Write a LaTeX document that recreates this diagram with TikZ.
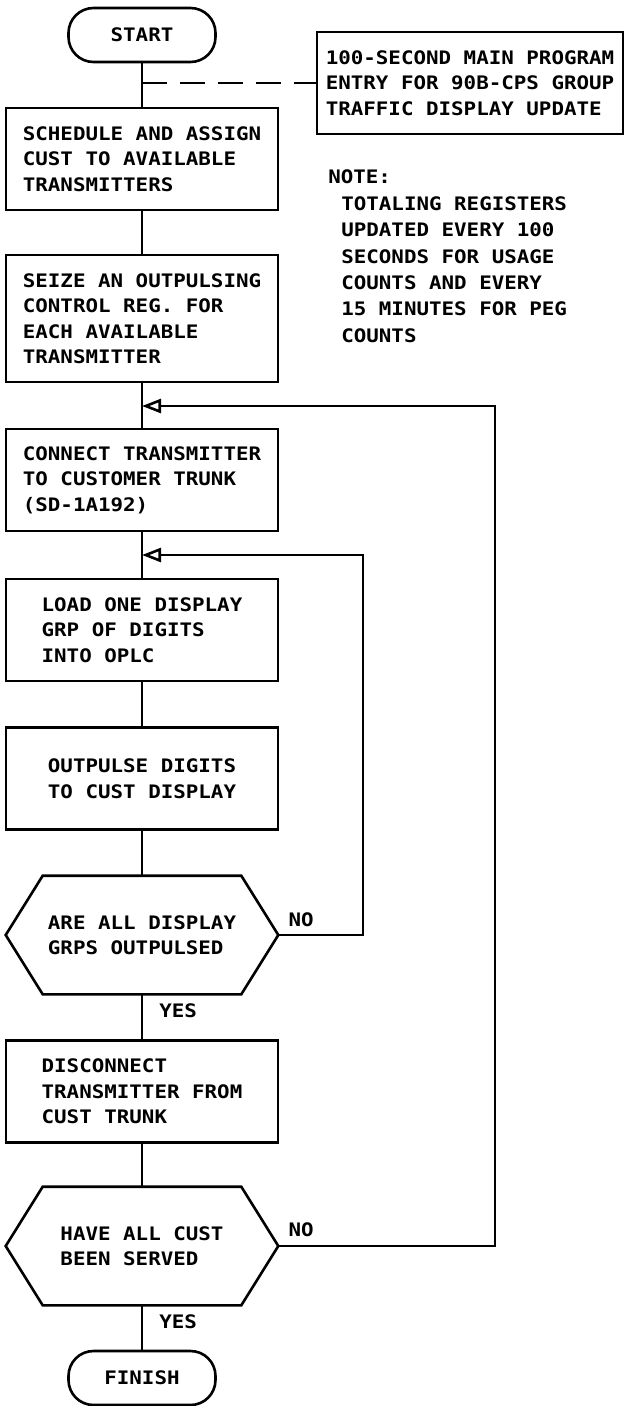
\documentclass[tikz,border=0pt]{standalone}
\usepackage{fontspec}
\setmainfont{DejaVu Sans Mono}[FakeStretch=1.12]
\usetikzlibrary{arrows.meta}

\begin{document}
\begin{tikzpicture}[x=1pt, y=-1pt, line width=2.6pt,
  every node/.style={font=\bfseries\fontsize{18.6pt}{25.5pt}\selectfont, align=left},
  procbox/.style={draw, minimum width=272pt, minimum height=102pt},
  termbox/.style={draw, rounded corners=25pt, minimum width=147pt, minimum height=54pt, align=center},
  decbox/.style={minimum width=270pt, minimum height=116pt},
  flow/.style={-{Triangle[open,length=19pt,width=14pt]}}]
\useasboundingbox (0,0) rectangle (625,1406);

\node[termbox] (start) at (142,35) {START};
\node[draw, minimum width=306pt, minimum height=102pt] (entry) at (470,83) {100-SECOND MAIN PROGRAM\\ENTRY FOR 90B-CPS GROUP\\TRAFFIC DISPLAY UPDATE};
\node[anchor=north west, inner sep=0pt] (note) at (327,168.5) {NOTE:};
\node[anchor=north west, inner sep=0pt, font=\bfseries\fontsize{18.6pt}{26.3pt}\selectfont] (notebody) at (340,195.5) {TOTALING REGISTERS\\UPDATED EVERY 100\\SECONDS FOR USAGE\\COUNTS AND EVERY\\15 MINUTES FOR PEG\\COUNTS};

\node[procbox] (sched) at (142,159) {SCHEDULE AND ASSIGN\\CUST TO AVAILABLE\\TRANSMITTERS};
\node[procbox, minimum height=127pt] (seize) at (142,318.5) {SEIZE AN OUTPULSING\\CONTROL REG. FOR\\EACH AVAILABLE\\TRANSMITTER};
\node[procbox] (conn) at (142,480) {CONNECT TRANSMITTER\\TO CUSTOMER TRUNK\\(SD-1A192)};
\node[procbox] (load) at (142,630) {LOAD ONE DISPLAY\\GRP OF DIGITS\\INTO OPLC};
\node[procbox] (outp) at (142,778.5) {OUTPULSE DIGITS\\TO CUST DISPLAY};
\node[decbox] (dec1) at (142,935) {ARE ALL DISPLAY\\GRPS OUTPULSED};
\node[procbox] (disc) at (142,1091.5) {DISCONNECT\\TRANSMITTER FROM\\CUST TRUNK};
\node[decbox] (dec2) at (142,1246) {HAVE ALL CUST\\BEEN SERVED};
\node[termbox] (finish) at (142,1378) {FINISH};

\foreach \d in {dec1,dec2}
  \draw (\d.west) -- ([xshift=37pt]\d.north west) -- ([xshift=-37pt]\d.north east) -- (\d.east)
    -- ([xshift=-37pt]\d.south east) -- ([xshift=37pt]\d.south west) -- cycle;

\node[anchor=south west, inner sep=0pt] (no1) at ([xshift=9pt,yshift=7pt]dec1.east) {NO};
\node[anchor=south west, inner sep=0pt] (no2) at ([xshift=9pt,yshift=8pt]dec2.east) {NO};
\node[anchor=north west, inner sep=0pt] (yes1) at ([xshift=16pt,yshift=-8pt]dec1.south) {YES};
\node[anchor=north west, inner sep=0pt] (yes2) at ([xshift=16pt,yshift=-8pt]dec2.south) {YES};

\coordinate (m1) at (142,406);
\coordinate (m2) at (142,555);
\coordinate (r1) at (495,406);
\coordinate (r2) at (363,555);

\draw (start) -- (sched);
\draw[dash pattern=on 25pt off 13pt] (start.south |- entry.west) -- (entry.west);
\draw (sched) -- (seize);
\draw (seize) -- (conn);
\draw (conn) -- (load);
\draw (load) -- (outp);
\draw (outp) -- (dec1.north);
\draw (dec1.south) -- (disc);
\draw (disc) -- (dec2.north);
\draw (dec2.south) -- (finish);
\draw[flow] (dec1.east) -| (r2) -- (m2);
\draw[flow] (dec2.east) -| (r1) -- (m1);
\end{tikzpicture}
\end{document}
